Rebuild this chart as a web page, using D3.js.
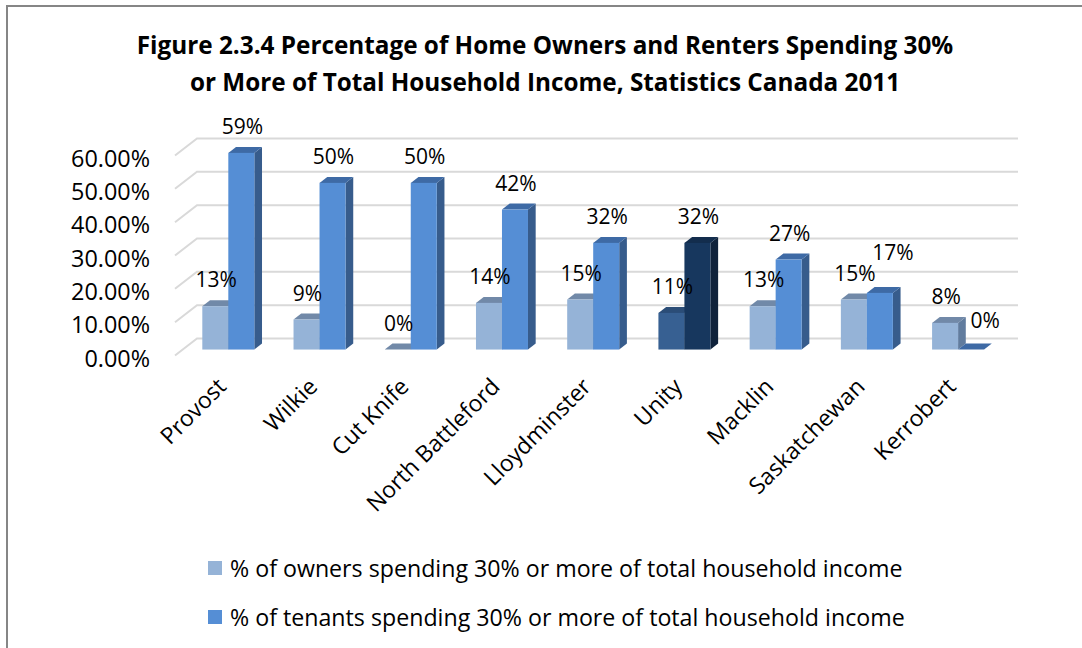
<!DOCTYPE html>
<html>
<head>
<meta charset="utf-8">
<script src="https://cdn.jsdelivr.net/npm/d3@7"></script>
<style>
  body { margin: 0; background: #fff; }
  svg { display: block; font-family: "Open Sans", Lato, sans-serif; }
</style>
</head>
<body>
<svg></svg>
<script>
// data
let categories = ['Provost', 'Wilkie', 'Cut Knife', 'North Battleford', 'Lloydminster', 'Unity', 'Macklin', 'Saskatchewan', 'Kerrobert']
let owners = [13, 9, 0, 14, 15, 11, 13, 15, 8]
let tenants = [59, 50, 50, 42, 32, 32, 27, 17, 0]
let seriesNames = ['% of owners spending 30% or more of total household income', '% of tenants spending 30% or more of total household income']
let yTicks = [0, 10, 20, 30, 40, 50, 60]
let titleLines = ['Figure 2.3.4 Percentage of Home Owners and Renters Spending 30%', 'or More of Total Household Income, Statistics Canada 2011']

let width = 1082
let height = 648
let svg = d3.select('svg').attr('width', width).attr('height', height)

// colours: front, top, side
let palette = {
    owners: ['#95b3d7', '#7189a8', '#617c9e'],
    tenants: ['#558ed5', '#3e6aa5', '#375c8c']
}
let highlight = 'Unity'
let highlightPalette = {
    owners: ['#376092', '#2b4d77', '#26446a'],
    tenants: ['#17375e', '#132d4d', '#0f223b']
}

// 3d oblique offsets (depth 0 = front plane, 1 = back wall)
let depthX = 22
let depthY = -17
let z0 = 0.35
let z1 = 0.7

let xScale = d3.scaleBand().domain(categories).range([175, 996]).padding(0)
let seriesScale = d3.scaleBand().domain(['owners', 'tenants']).range([0, xScale.bandwidth()]).paddingInner(0).paddingOuter(0.754)
let yScale = d3.scaleLinear().domain([0, 60]).range([355.5, 155.5])

let P = (x, v, z) => [x + depthX * z, yScale(v) + depthY * z]

// frame
svg.append('rect')
    .attr('x', 7).attr('y', 6)
    .attr('width', 1200).attr('height', 800)
    .attr('fill', 'none')
    .attr('stroke', '#868686')
    .attr('stroke-width', 2)

// title
svg.append('g').selectAll('text')
    .data(titleLines)
    .enter()
    .append('text')
    .attr('x', 545)
    .attr('y', (d, i) => 54 + i * 37)
    .attr('text-anchor', 'middle')
    .attr('font-size', 24.3)
    .attr('font-weight', 'bold')
    .attr('fill', '#000')
    .text(d => d)

// gridlines: diagonal on the left + horizontal on back wall
let grid = svg.append('g')
let x0 = xScale.range()[0]
let x1 = xScale.range()[1]
yTicks.forEach(t => {
    let a = P(x0, t, 0), b = P(x0, t, 1), c = P(x1, t, 1)
    grid.append('path')
        .attr('d', d3.line()([a, b, c]))
        .attr('fill', 'none')
        .attr('stroke', '#d9d9d9')
        .attr('stroke-width', 2)
})

// y axis labels
svg.append('g').selectAll('text')
    .data(yTicks)
    .enter()
    .append('text')
    .attr('x', 150)
    .attr('y', d => yScale(d) + 2)
    .attr('text-anchor', 'end')
    .attr('dominant-baseline', 'central')
    .attr('font-size', 23.4)
    .text(d => d3.format('.2f')(d) + '%')

// bars
let bars = []
categories.forEach((c, i) => {
    bars.push({ cat: c, key: 'owners', value: owners[i] })
    bars.push({ cat: c, key: 'tenants', value: tenants[i] })
})

let barG = svg.append('g')
bars.forEach(b => {
    let cols = (b.cat === highlight ? highlightPalette : palette)[b.key]
    let xa = xScale(b.cat) + seriesScale(b.key)
    let xb = xa + seriesScale.bandwidth()
    let v = b.value
    let g = barG.append('g')
    // side
    g.append('path')
        .attr('d', d3.line()([P(xb, 0, z0), P(xb, v, z0), P(xb, v, z1), P(xb, 0, z1)]) + 'Z')
        .attr('fill', cols[2])
    // top
    g.append('path')
        .attr('d', d3.line()([P(xa, v, z0), P(xb, v, z0), P(xb, v, z1), P(xa, v, z1)]) + 'Z')
        .attr('fill', cols[1])
    // front
    if (v > 0) {
        let tl = P(xa, v, z0), br = P(xb, 0, z0)
        g.append('rect')
            .attr('x', tl[0]).attr('y', tl[1])
            .attr('width', br[0] - tl[0]).attr('height', br[1] - tl[1])
            .attr('fill', cols[0])
    }
})

// data labels (two are moved aside like in the original)
let labelNudge = { 'Saskatchewan|tenants': [12, -14], 'Kerrobert|tenants': [13, -3] }
svg.append('g').selectAll('text')
    .data(bars)
    .enter()
    .append('text')
    .attr('x', d => {
        let n = labelNudge[d.cat + '|' + d.key] || [0, 0]
        return P(xScale(d.cat) + seriesScale(d.key) + seriesScale.bandwidth() / 2, d.value, z0)[0] + 1 + n[0]
    })
    .attr('y', d => {
        let n = labelNudge[d.cat + '|' + d.key] || [0, 0]
        return P(0, d.value, z1)[1] - 13 + n[1]
    })
    .attr('text-anchor', 'middle')
    .attr('font-size', 21)
    .text(d => d.value + '%')

// category labels
svg.append('g').selectAll('text')
    .data(categories)
    .enter()
    .append('text')
    .attr('text-anchor', 'end')
    .attr('font-size', 23)
    .attr('transform', d => 'translate(' + (xScale(d) + xScale.bandwidth() / 2 + 7) + ',388) rotate(-45)')
    .text(d => d)

// legend
let legend = svg.append('g')
seriesNames.forEach((name, i) => {
    let key = i === 0 ? 'owners' : 'tenants'
    let cy = 568 + i * 49
    legend.append('rect')
        .attr('x', 208).attr('y', cy - 7)
        .attr('width', 14).attr('height', 14)
        .attr('fill', palette[key][0])
    legend.append('text')
        .attr('x', 230).attr('y', cy)
        .attr('dominant-baseline', 'central')
        .attr('font-size', 23.2)
        .text(name)
})
</script>
</body>
</html>
